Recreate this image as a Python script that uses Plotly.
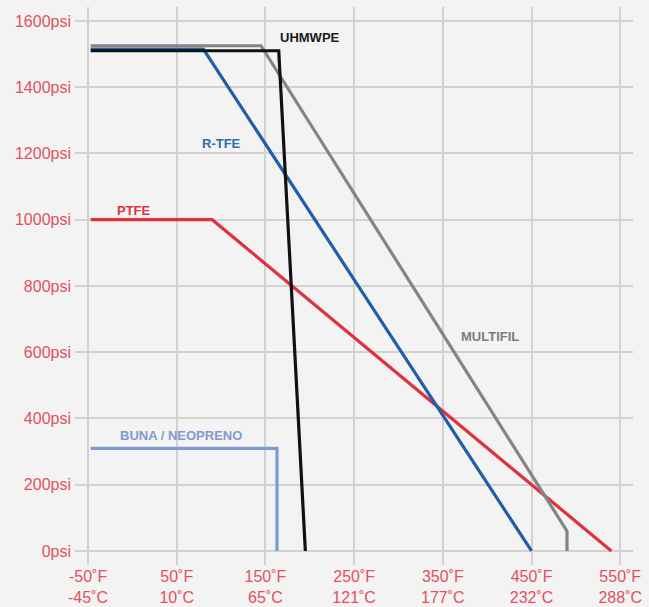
import plotly.graph_objects as go

# Pressure ratings (psi) versus temperature (°F) for each packing material
uhmwpe_temp = [-47, 165, 195]
uhmwpe_psi = [1510, 1510, 0]

rtfe_temp = [-47, 80, 450]
rtfe_psi = [1515, 1515, 0]

multifil_temp = [-47, 145, 490, 490]
multifil_psi = [1525, 1525, 60, 0]

ptfe_temp = [-47, 90, 540]
ptfe_psi = [1000, 1000, 0]

buna_temp = [-47, 163, 163]
buna_psi = [310, 310, 0]

# Axis ticks
x_ticks_f = [-50, 50, 150, 250, 350, 450, 550]
x_ticks_c = [-45, 10, 65, 121, 177, 232, 288]
y_ticks = [0, 200, 400, 600, 800, 1000, 1200, 1400, 1600]

# Series labels: name, x, y, colour
series_labels = [
    ("UHMWPE", 200, 1550, "#1a1a1a"),
    ("R-TFE", 100, 1229, "#2e6bb0"),
    ("PTFE", 2, 1029, "#e0323e"),
    ("MULTIFIL", 403, 646, "#7d7d7d"),
    ("BUNA / NEOPRENO", 55, 350, "#7f9ccd"),
]

series = [
    (buna_temp, buna_psi, "#7b9bd3"),
    (ptfe_temp, ptfe_psi, "#e0323e"),
    (rtfe_temp, rtfe_psi, "#1f5fa8"),
    (multifil_temp, multifil_psi, "#858585"),
    (uhmwpe_temp, uhmwpe_psi, "#111111"),
]

fig = go.Figure()
for xs, ys, color in series:
    fig.add_trace(go.Scatter(
        x=xs, y=ys, mode="lines",
        line=dict(color=color, width=3.2),
        hoverinfo="skip", showlegend=False,
    ))

for text, x, y, color in series_labels:
    fig.add_annotation(
        x=x, y=y, xref="x", yref="y", text=f"<b>{text}</b>",
        showarrow=False,
        font=dict(family="Liberation Sans, Arial, sans-serif", size=13, color=color),
    )

tick_red = "#e2505e"
fig.update_layout(
    width=649, height=607,
    margin=dict(l=75, r=16, t=7, b=42),
    paper_bgcolor="#f3f3f3",
    plot_bgcolor="#f3f3f3",
    font=dict(family="Liberation Sans, Arial, sans-serif"),
    xaxis=dict(
        range=[-64.7, 564.4],
        tickvals=x_ticks_f,
        ticktext=[f"{f}˚F<br>{c}˚C" for f, c in zip(x_ticks_f, x_ticks_c)],
        tickfont=dict(size=16, color=tick_red),
        showgrid=True, gridcolor="#d2d2d2", gridwidth=2,
        zeroline=False, showline=False, ticks="",
        automargin=False,
    ),
    yaxis=dict(
        range=[-42.3, 1642],
        tickvals=y_ticks,
        ticktext=[f"{v}psi" for v in y_ticks],
        tickfont=dict(size=16, color=tick_red),
        showgrid=True, gridcolor="#d2d2d2", gridwidth=2,
        zeroline=False, showline=False, ticks="",
        ticklabelstandoff=3,
        automargin=False,
    ),
)

fig.write_html("out.html")
